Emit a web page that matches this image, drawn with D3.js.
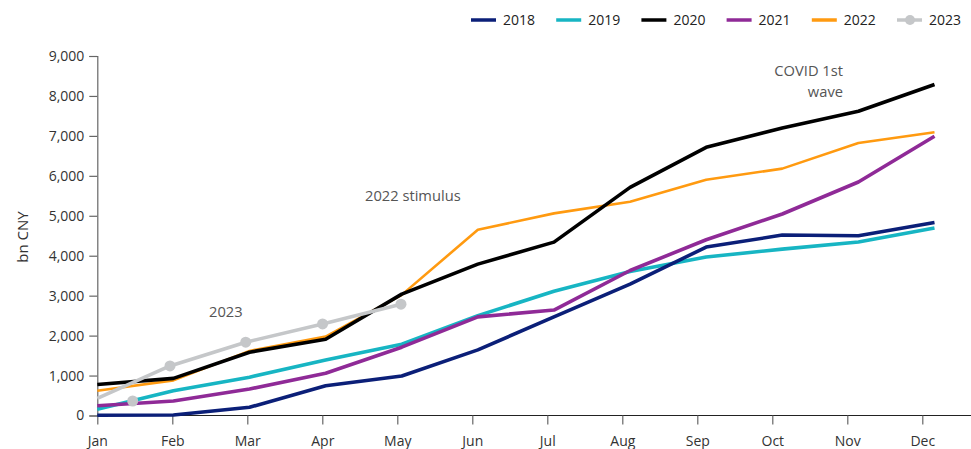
<!DOCTYPE html>
<html>
<head>
<meta charset="utf-8">
<script src="https://cdn.jsdelivr.net/npm/d3@7"></script>
<style>
  html, body { margin: 0; padding: 0; background: #fff; }
  svg { display: block; font-family: "Open Sans", "Noto Sans", sans-serif; }
</style>
</head>
<body>
<svg id="chart" width="971" height="449"></svg>
<script>
const months = ["Jan","Feb","Mar","Apr","May","Jun","Jul","Aug","Sep","Oct","Nov","Dec"];
const yTicks = [0,1000,2000,3000,4000,5000,6000,7000,8000,9000];

const v2018 = [5, 12, 205, 747, 990, 1642, 2470, 3289, 4216, 4517, 4500, 4833];
const v2019 = [155, 620, 960, 1391, 1785, 2500, 3110, 3605, 3966, 4166, 4342, 4693];
const v2020 = [775, 930, 1585, 1910, 3038, 3790, 4340, 5711, 6713, 7200, 7616, 8285];
const v2021 = [245, 363, 664, 1058, 1710, 2469, 2640, 3630, 4400, 5044, 5846, 6990];
const v2022 = [620, 880, 1617, 1975, 3020, 4650, 5060, 5352, 5904, 6180, 6824, 7090];
// 2023: line positions (month index) and values, plus marker positions
const x2023 = [0, 0.955, 1.95, 2.96, 3.99];
const v2023 = [430, 1240, 1835, 2293, 2787];
const mx2023 = [0.465, 0.955, 1.95, 2.96, 3.99];
const mv2023 = [363, 1240, 1835, 2293, 2787];

const seriesNames = ["2018","2019","2020","2021","2022","2023"];
const colors = ["#0b1f78", "#17b5c3", "#000000", "#8f2a97", "#ff9a10", "#c5c7c9"];
const widths = [3.6, 3.6, 3.6, 3.6, 2.6, 3.6];

const annotations = [
  {text: ["COVID 1st", "wave"], x: 843, y: 76, anchor: "end"},
  {text: ["2022 stimulus"], x: 365, y: 201, anchor: "start"},
  {text: ["2023"], x: 209, y: 317, anchor: "start"}
];

const svg = d3.select("#chart");
const W = 971, H = 449;
const x0 = 97.3;
const xData = d3.scaleLinear().domain([0, 11]).range([x0, 934.5]);
const xTick = d3.scalePoint().domain(months).range([x0, 922.3]);
const y = d3.scaleLinear().domain([0, 9000]).range([415.5, 56]);

// Y axis
const yAxis = svg.append("g").attr("transform", `translate(${x0},0)`)
  .call(d3.axisLeft(y).tickValues(yTicks).tickFormat(d3.format(",")).tickSizeOuter(0).tickSize(8).tickPadding(5));
yAxis.select(".domain").attr("stroke", "#666").attr("stroke-width", 1.2);
yAxis.selectAll(".tick line").attr("stroke", "#666").attr("stroke-width", 1.2);
yAxis.selectAll(".tick text").attr("fill", "#333").style("font-size", "14px").style("font-family", "'Open Sans'");

// X axis
const xAxis = svg.append("g").attr("transform", `translate(0,${y(0)})`)
  .call(d3.axisBottom(xTick).tickSizeOuter(0).tickSize(9).tickPadding(12));
xAxis.select(".domain").attr("d", `M${x0},0H${W}`).attr("stroke", "#222").attr("stroke-width", 1.2);
xAxis.selectAll(".tick line").attr("stroke", "#666").attr("stroke-width", 1.2);
xAxis.selectAll(".tick text").attr("fill", "#333").style("font-size", "14px").style("font-family", "'Open Sans'");

// Y label
svg.append("text")
  .attr("transform", `translate(28,237) rotate(-90)`)
  .attr("text-anchor", "middle")
  .attr("fill", "#333")
  .style("font-size", "15px")
  .text("bn CNY");

// Lines
const line = d3.line().x(d => xData(d[0])).y(d => y(d[1]));
const allMonthly = [v2018, v2019, v2020, v2021, v2022];
const drawOrder = [1, 0, 3, 4, 2];
drawOrder.forEach(i => {
  const pts = allMonthly[i].map((v, k) => [k, v]);
  svg.append("path").datum(pts)
    .attr("d", line)
    .attr("fill", "none")
    .attr("stroke", colors[i])
    .attr("stroke-width", widths[i])
    .attr("stroke-linejoin", "round");
});

// 2023
const pts23 = x2023.map((xx, k) => [xx, v2023[k]]);
svg.append("path").datum(pts23)
  .attr("d", line)
  .attr("fill", "none")
  .attr("stroke", colors[5])
  .attr("stroke-width", widths[5])
  .attr("stroke-linejoin", "round");
svg.selectAll("circle.m23").data(mx2023.map((xx, k) => [xx, mv2023[k]]))
  .enter().append("circle")
  .attr("class", "m23")
  .attr("cx", d => xData(d[0]))
  .attr("cy", d => y(d[1]))
  .attr("r", 5.5)
  .attr("fill", colors[5]);

// Annotations
annotations.forEach(a => {
  const t = svg.append("text")
    .attr("x", a.x).attr("y", a.y)
    .attr("text-anchor", a.anchor)
    .attr("fill", "#555")
    .style("font-size", "14.7px");
  a.text.forEach((s, i) => {
    t.append("tspan").attr("x", a.x).attr("dy", i === 0 ? 0 : 21).text(s);
  });
});

// Legend
const legendX = d3.scaleLinear().domain([0, 5]).range([471, 897]);
const lg = svg.append("g");
seriesNames.forEach((name, i) => {
  const lx = legendX(i);
  lg.append("line")
    .attr("x1", lx).attr("x2", lx + 25)
    .attr("y1", 20).attr("y2", 20)
    .attr("stroke", colors[i])
    .attr("stroke-width", 3.5);
  if (i === 5) {
    lg.append("circle").attr("cx", lx + 13).attr("cy", 20).attr("r", 5).attr("fill", colors[i]);
  }
  lg.append("text")
    .attr("x", lx + 32).attr("y", 25)
    .attr("fill", "#222")
    .style("font-size", "14px")
    .text(name);
});
</script>
</body>
</html>
